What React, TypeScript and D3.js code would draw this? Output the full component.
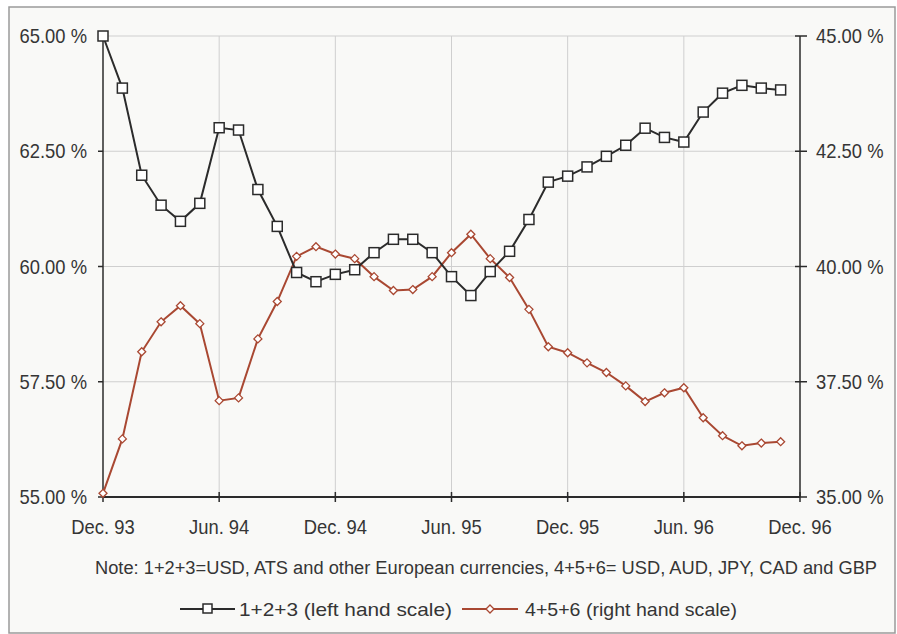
import React from "react";
import * as d3 from "d3";

// month labels on the x axis (every 6 months, Dec. 93 .. Dec. 96)
const tickLabels = ["Dec. 93", "Jun. 94", "Dec. 94", "Jun. 95", "Dec. 95", "Jun. 96", "Dec. 96"];

// 1+2+3 (left hand scale), monthly Dec. 93 .. Nov. 96
const leftSeries = [
  65.0, 63.87, 61.98, 61.33, 60.98, 61.37, 63.01, 62.96, 61.67, 60.87, 59.87, 59.67,
  59.83, 59.93, 60.3, 60.59, 60.59, 60.3, 59.78, 59.37, 59.89, 60.33, 61.02, 61.83,
  61.96, 62.16, 62.39, 62.63, 63.0, 62.8, 62.7, 63.35, 63.76, 63.93, 63.87, 63.83,
];

// 4+5+6 (right hand scale)
const rightSeries = [
  35.08, 36.26, 38.15, 38.8, 39.15, 38.76, 37.09, 37.15, 38.43, 39.24, 40.22, 40.43,
  40.27, 40.17, 39.78, 39.48, 39.5, 39.78, 40.3, 40.7, 40.17, 39.76, 39.07, 38.26,
  38.13, 37.91, 37.7, 37.41, 37.07, 37.26, 37.37, 36.72, 36.33, 36.11, 36.17, 36.2,
];

const leftTicks = [55, 57.5, 60, 62.5, 65];
const rightTicks = [35, 37.5, 40, 42.5, 45];

const W = 897;
const H = 634;
const font = "'Liberation Sans', Arial, sans-serif";
const ink = "#2b2b2b";
const red = "#a94832";
const txt = "#353535";

// condensed-looking label: horizontal squeeze of a normal sans
const Label = ({ x, y, anchor, children }: { x: number; y: number; anchor: string; children: React.ReactNode }) => (
  <text transform={`translate(${x},${y}) scale(0.92,1)`} textAnchor={anchor} fontSize={20} fill={txt}>
    {children}
  </text>
);

const App = () => {
  const x = d3.scaleLinear().domain([0, 36]).range([103, 800]);
  const yL = d3.scaleLinear().domain([55, 65]).range([497, 36]);
  const yR = d3.scaleLinear().domain([35, 45]).range([497, 36]);

  const lineL = d3
    .line<number>()
    .x((_, i) => x(i))
    .y((d) => yL(d));
  const lineR = d3
    .line<number>()
    .x((_, i) => x(i))
    .y((d) => yR(d));

  const diamond = (cx: number, cy: number, r: number) =>
    `M${cx},${cy - r}L${cx + r},${cy}L${cx},${cy + r}L${cx - r},${cy}Z`;

  return (
    <svg width={W} height={H} style={{ position: "absolute", left: 0, top: 0 }} fontFamily={font}>
      <rect x={0} y={0} width={W} height={H} fill="#ffffff" />
      <rect x={9} y={7} width={886} height={626} fill="#f9f9f7" stroke="#9a9a9a" strokeWidth={1.5} />

      {/* grid */}
      {leftTicks.slice(1).map((t) => (
        <line key={"h" + t} x1={x(0)} x2={x(36)} y1={yL(t)} y2={yL(t)} stroke="#cfcfcf" strokeWidth={1} />
      ))}
      {tickLabels.slice(1, -1).map((t, i) => (
        <line key={"v" + t} x1={x((i + 1) * 6)} x2={x((i + 1) * 6)} y1={yL(65)} y2={yL(55)} stroke="#cfcfcf" strokeWidth={1} />
      ))}

      {/* axes */}
      <line x1={x(0)} x2={x(0)} y1={yL(65)} y2={yL(55)} stroke={ink} strokeWidth={1.5} />
      <line x1={x(36)} x2={x(36)} y1={yR(45)} y2={yR(35)} stroke={ink} strokeWidth={1.5} />
      <line x1={x(0)} x2={x(36)} y1={yL(55)} y2={yL(55)} stroke={ink} strokeWidth={2} />

      {leftTicks.map((t) => (
        <g key={"l" + t}>
          <line x1={x(0) - 5} x2={x(0)} y1={yL(t)} y2={yL(t)} stroke={ink} strokeWidth={1.5} />
          <Label x={87} y={yL(t) + 7} anchor="end">
            {d3.format(".2f")(t)} %
          </Label>
        </g>
      ))}
      {rightTicks.map((t) => (
        <g key={"r" + t}>
          <line x1={x(36) - 5} x2={x(36) + 7} y1={yR(t)} y2={yR(t)} stroke={ink} strokeWidth={1.5} />
          <Label x={816} y={yR(t) + 7} anchor="start">
            {d3.format(".2f")(t)} %
          </Label>
        </g>
      ))}
      {tickLabels.map((t, i) => (
        <g key={"x" + t}>
          <line x1={x(i * 6)} x2={x(i * 6)} y1={yL(55) - 5} y2={yL(55) + 5} stroke={ink} strokeWidth={1.5} />
          <Label x={x(i * 6)} y={534} anchor="middle">
            {t}
          </Label>
        </g>
      ))}

      {/* series */}
      <path d={lineR(rightSeries) || ""} fill="none" stroke={red} strokeWidth={2} />
      {rightSeries.map((d, i) => (
        <path key={"rd" + i} d={diamond(x(i), yR(d), 4)} fill="#fff" stroke={red} strokeWidth={1.3} />
      ))}
      <path d={lineL(leftSeries) || ""} fill="none" stroke={ink} strokeWidth={2} />
      {leftSeries.map((d, i) => (
        <rect key={"ls" + i} x={x(i) - 5} y={yL(d) - 5} width={10} height={10} fill="#fff" stroke={ink} strokeWidth={1.5} />
      ))}

      {/* note */}
      <text x={95} y={574} fontSize={18} fill={txt} textLength={782} lengthAdjust="spacingAndGlyphs">
        Note: 1+2+3=USD, ATS and other European currencies, 4+5+6= USD, AUD, JPY, CAD and GBP
      </text>

      {/* legend */}
      <line x1={180} x2={235} y1={609} y2={609} stroke={ink} strokeWidth={2} />
      <rect x={203} y={604} width={9} height={9} fill="#fff" stroke={ink} strokeWidth={1.5} />
      <text x={239} y={616} fontSize={19} fill={txt} textLength={213} lengthAdjust="spacingAndGlyphs">
        1+2+3 (left hand scale)
      </text>
      <line x1={462} x2={518} y1={609} y2={609} stroke={red} strokeWidth={2} />
      <path d={diamond(490, 609, 4)} fill="#fff" stroke={red} strokeWidth={1.3} />
      <text x={525} y={616} fontSize={19} fill={txt} textLength={212} lengthAdjust="spacingAndGlyphs">
        4+5+6 (right hand scale)
      </text>
    </svg>
  );
};

export default App;
